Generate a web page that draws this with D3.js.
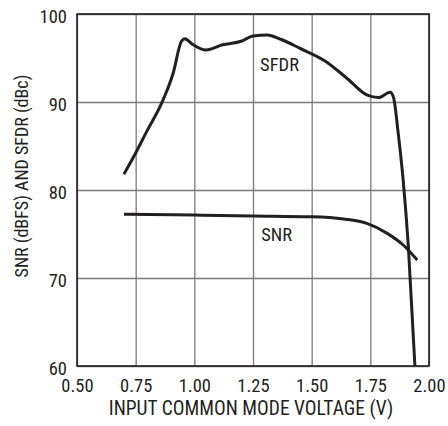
<!DOCTYPE html>
<html><head><meta charset="utf-8">
<script src="https://cdn.jsdelivr.net/npm/d3@7"></script>
<style>
body{margin:0;background:#fff;}
text{font-family:"Liberation Sans Narrow","Arial Narrow","Roboto Condensed","Liberation Sans",Arial,sans-serif;fill:#231f20;}
</style></head><body>
<svg id="c" width="448" height="426"></svg>
<script>
const xTicks = [0.50,0.75,1.00,1.25,1.50,1.75,2.00];
const yTicks = [60,70,80,90,100];
const sfdrV = [0.70,0.75,0.80,0.854,0.91,0.945,0.96,0.99,1.05,1.12,1.20,1.25,1.31,1.37,1.45,1.56,1.65,1.735,1.785,1.834,1.848,1.869,1.89,1.912,1.94];
const sfdrDB = [81.8,84.2,86.8,89.5,93.3,96.9,97.2,96.6,95.9,96.5,96.9,97.5,97.6,97.1,96.1,94.6,92.7,90.8,90.5,91.1,90.6,86.4,81.1,73.6,60];
const snrV = [0.70,1.00,1.25,1.50,1.635,1.735,1.82,1.89,1.95];
const snrDB = [77.24,77.15,77.05,76.95,76.7,76.2,75.1,73.75,72.05];
const labels = [{t:"SFDR",v:1.363,d:93.5},{t:"SNR",v:1.351,d:74.2}];

const svg = d3.select("#c");
const L=77,T=14,W=352,H=352;
const x = d3.scaleLinear().domain([0.5,2.0]).range([L,L+W]);
const y = d3.scaleLinear().domain([60,100]).range([T+H,T]);
const fs = 18.5;

// grid
svg.append("g").attr("transform",`translate(0,${T+H})`)
  .call(d3.axisBottom(x).tickValues(xTicks).tickSize(H).tickFormat(d3.format(".2f")))
  .call(g=>{g.select(".domain").remove();
    g.selectAll("line").attr("y2",-H).attr("stroke","#7a7a7a").attr("stroke-width",1.3);
    g.selectAll("text").attr("y",25.5).attr("font-size",fs).attr("dy",0).attr("fill","#231f20").attr("font-family",null);});
svg.append("g").attr("transform",`translate(${L},0)`)
  .call(d3.axisLeft(y).tickValues(yTicks).tickSize(0))
  .call(g=>{g.select(".domain").remove();
    g.selectAll("line").attr("x2",W).attr("stroke","#7a7a7a").attr("stroke-width",1.3);
    g.selectAll("text").attr("x",-10).attr("dy","0.45em").attr("font-size",fs).attr("fill","#231f20").attr("font-family",null);});
svg.append("rect").attr("x",L).attr("y",T).attr("width",W).attr("height",H)
  .attr("fill","none").attr("stroke","#231f20").attr("stroke-width",1.6);

const line = d3.line().x(d=>x(d[0])).y(d=>y(d[1])).curve(d3.curveMonotoneX);
svg.append("path").datum(snrV.map((v,i)=>[v,snrDB[i]])).attr("d",line)
  .attr("fill","none").attr("stroke","#231f20").attr("stroke-width",3);
svg.append("path").datum(sfdrV.map((v,i)=>[v,sfdrDB[i]])).attr("d",line)
  .attr("fill","none").attr("stroke","#231f20").attr("stroke-width",3);

labels.forEach(l=>svg.append("text").attr("x",x(l.v)).attr("y",y(l.d)).attr("text-anchor","middle").attr("font-size",fs).text(l.t));

svg.append("text").attr("x",251).attr("y",415).attr("text-anchor","middle").attr("font-size",19.5).text("INPUT COMMON MODE VOLTAGE (V)");
svg.append("text").attr("transform","translate(28,176) rotate(-90)").attr("text-anchor","middle").attr("font-size",18).text("SNR (dBFS) AND SFDR (dBc)");
</script></body></html>
